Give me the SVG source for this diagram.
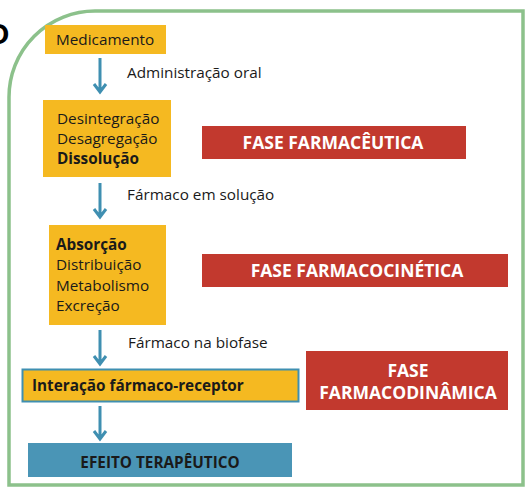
<svg xmlns="http://www.w3.org/2000/svg" width="531" height="495" viewBox="0 0 531 495">
<style>
.t{font-family:"Open Sans","Noto Sans",sans-serif;font-size:15.3px;fill:#1a1a1a}
.b{font-weight:bold}
.w{font-family:"Open Sans","Noto Sans",sans-serif;font-size:17.5px;font-weight:bold;fill:#ffffff}
.y{fill:#f5b921}
.r{fill:#c2392e}
.c{stroke:#3f8fb1;stroke-width:3;fill:none}
</style>
<rect width="531" height="495" fill="#ffffff"/>
<text x="-14" y="44" font-family="Liberation Sans,sans-serif" font-size="30" font-weight="bold" fill="#000">O</text>
<path d="M95,11 H523 V485 H9 V97 A86,86 0 0 1 95,11 Z" fill="none" stroke="#8cc18b" stroke-width="3.5"/>
<g id="n1"><rect class="y" x="45" y="25" width="121" height="29"/><text class="t" x="56" y="45">Medicamento</text></g>
<g id="n2"><rect class="y" x="43" y="100" width="128" height="77"/><text class="t" x="57" y="124">Desintegração</text><text class="t" x="57" y="144">Desagregação</text><text class="t b" x="57" y="164">Dissolução</text></g>
<g id="n3"><rect class="y" x="49" y="225" width="117" height="100"/><text class="t b" x="56" y="250">Absorção</text><text class="t" x="56" y="270">Distribuição</text><text class="t" x="56" y="291">Metabolismo</text><text class="t" x="56" y="311">Excreção</text></g>
<g id="n4"><rect class="y" x="22.5" y="369.5" width="276" height="32" stroke="#3f8fb1" stroke-width="2"/><text class="t b" x="32" y="391" font-size="16">Interação fármaco-receptor</text></g>
<g id="n5"><rect x="28" y="443" width="264" height="34" fill="#4a95b6"/><text class="t b" x="160" y="467.5" text-anchor="middle" font-size="19.5">EFEITO TERAPÊUTICO</text></g>
<g id="p1"><rect class="r" x="202" y="126" width="264" height="33"/><text class="w" x="333" y="148.5" text-anchor="middle">FASE FARMACÊUTICA</text></g>
<g id="p2"><rect class="r" x="202" y="254" width="306" height="33"/><text class="w" x="357" y="277" text-anchor="middle">FASE FARMACOCINÉTICA</text></g>
<g id="p3"><rect class="r" x="306" y="351" width="202" height="59"/><text class="w" x="408" y="376.5" text-anchor="middle">FASE</text><text class="w" x="408" y="399" text-anchor="middle">FARMACODINÂMICA</text></g>
<g id="connectors">
<path class="c" d="M100,58 V92 M94,84 L100,92 L106,84"/>
<path class="c" d="M100,183 V217 M94,209 L100,217 L106,209"/>
<path class="c" d="M100,330 V364 M94,356 L100,364 L106,356"/>
<path class="c" d="M100,406 V439 M94,431 L100,439 L106,431"/>
<text class="t" x="127" y="78">Administração oral</text>
<text class="t" x="127" y="200">Fármaco em solução</text>
<text class="t" x="128" y="348">Fármaco na biofase</text>
</g>
</svg>
